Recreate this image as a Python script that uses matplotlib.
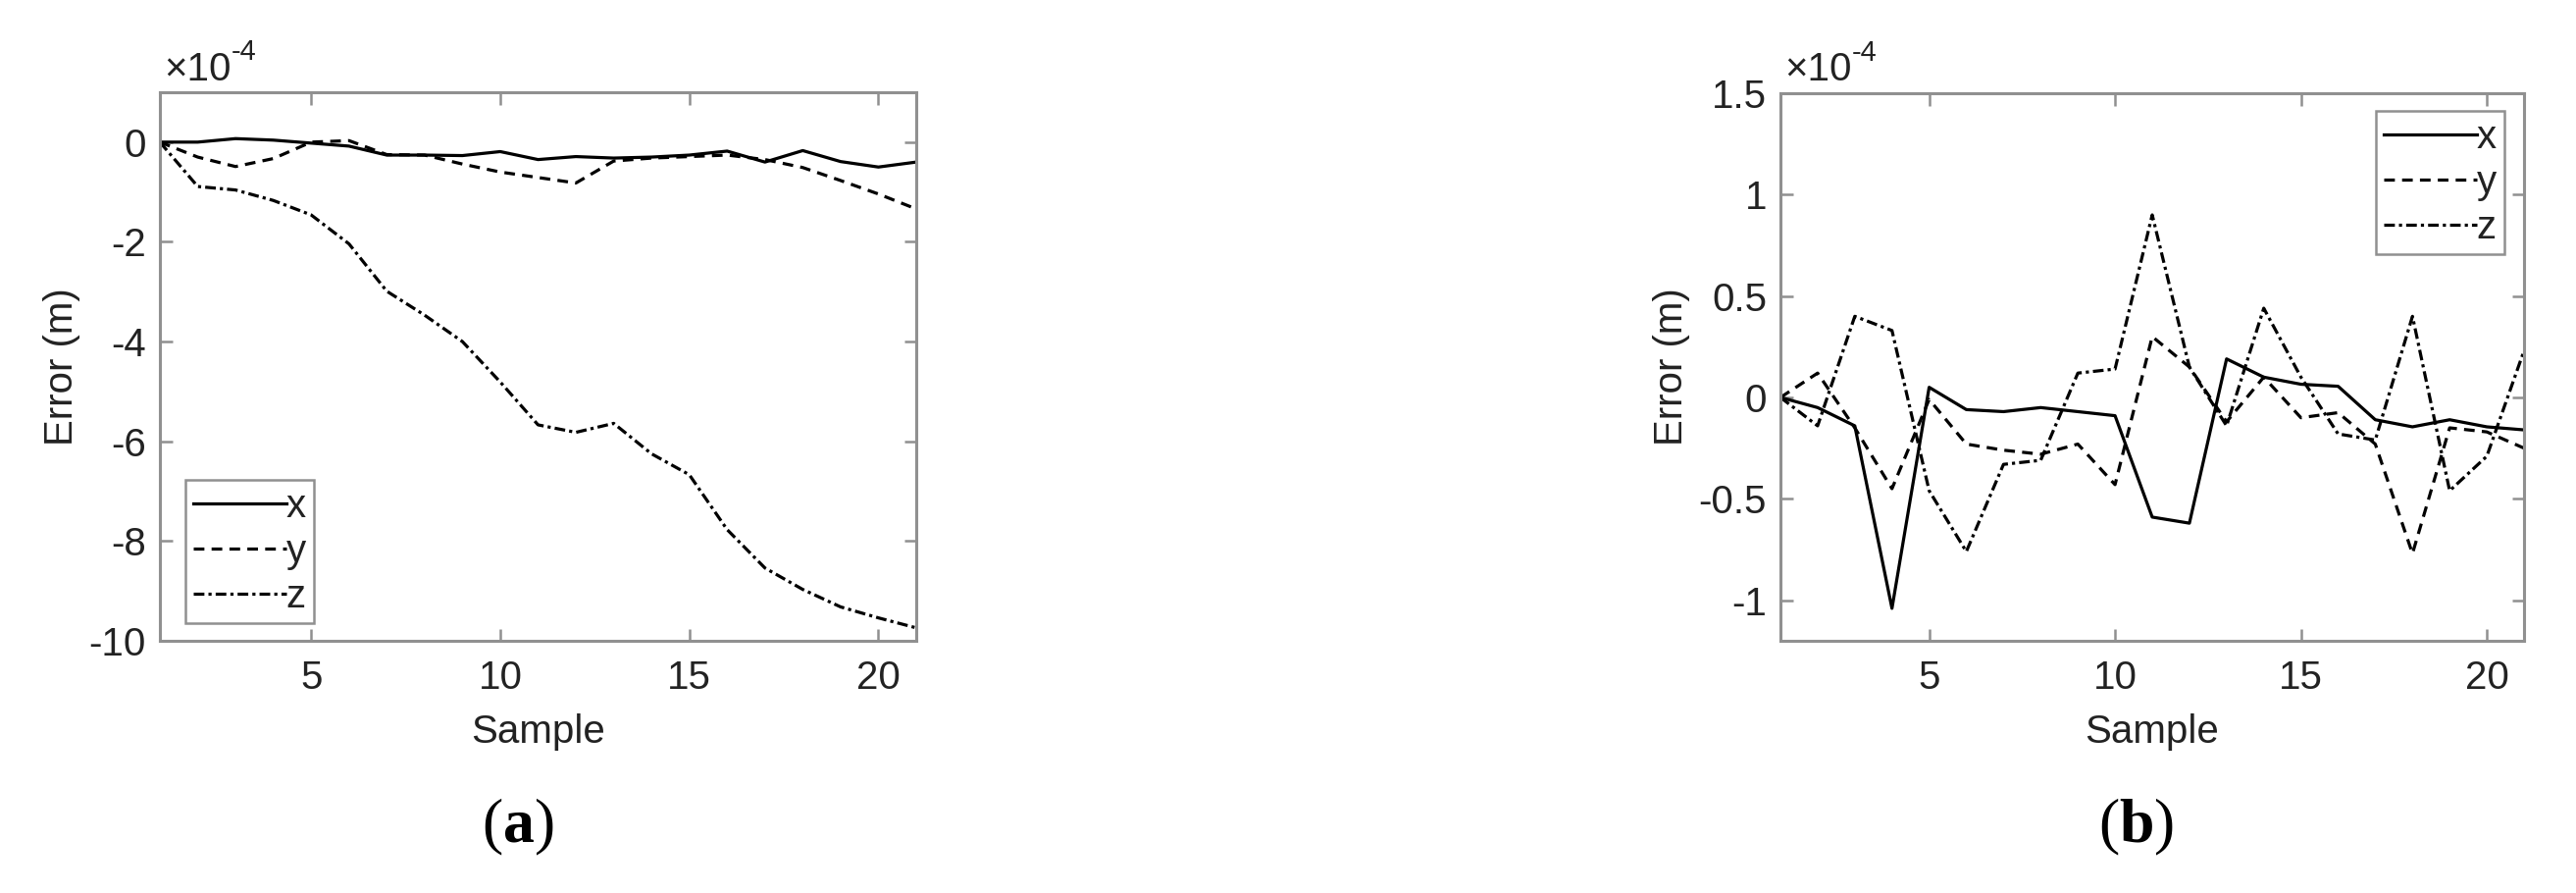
import matplotlib
matplotlib.use("Agg")
import matplotlib.pyplot as plt
from matplotlib.ticker import FormatStrFormatter

plt.rcParams['font.family'] = ['Liberation Sans', 'DejaVu Sans']
plt.rcParams['axes.unicode_minus'] = False
plt.rcParams['mathtext.fontset'] = 'custom'
plt.rcParams['mathtext.rm'] = 'Liberation Sans'
plt.rcParams['mathtext.it'] = 'Liberation Sans'
plt.rcParams['mathtext.bf'] = 'Liberation Serif:bold'

samples = list(range(1, 22))

# (a) errors in units of 1e-4 m
a_x = [0.0, 0.0, 0.07, 0.04, -0.02, -0.08, -0.26, -0.26, -0.27, -0.19, -0.35,
       -0.29, -0.32, -0.30, -0.26, -0.18, -0.40, -0.17, -0.39, -0.50, -0.40]
a_y = [0.0, -0.30, -0.49, -0.33, 0.0, 0.03, -0.25, -0.26, -0.44, -0.60, -0.71,
       -0.82, -0.38, -0.32, -0.29, -0.26, -0.35, -0.51, -0.77, -1.04, -1.34]
a_z = [0.0, -0.89, -0.96, -1.17, -1.46, -2.04, -2.99, -3.47, -4.00, -4.81, -5.67,
       -5.82, -5.64, -6.25, -6.67, -7.77, -8.54, -8.97, -9.32, -9.54, -9.74]

# (b) errors in units of 1e-4 m
b_x = [0.0, -0.05, -0.14, -1.04, 0.05, -0.06, -0.07, -0.05, -0.07, -0.09, -0.59,
       -0.62, 0.19, 0.10, 0.065, 0.055, -0.11, -0.145, -0.11, -0.145, -0.16]
b_y = [0.0, 0.12, -0.15, -0.45, -0.01, -0.23, -0.26, -0.28, -0.23, -0.43, 0.30,
       0.15, -0.12, 0.10, -0.10, -0.075, -0.23, -0.77, -0.15, -0.17, -0.25]
b_z = [0.0, -0.14, 0.40, 0.33, -0.46, -0.76, -0.33, -0.31, 0.12, 0.14, 0.90,
       0.15, -0.14, 0.44, 0.10, -0.18, -0.21, 0.40, -0.46, -0.29, 0.23]

a_yticks = [-10, -8, -6, -4, -2, 0]
b_yticks = [-1, -0.5, 0, 0.5, 1, 1.5]
xticks = [5, 10, 15, 20]
series_labels = ['x', 'y', 'z']
scale_base = '\u00d710'
scale_exp = '-4'

W, H = 2626, 910
fig = plt.figure(figsize=(W / 100, H / 100), dpi=100)

def fx(px):
    return px / W

def fy(py):
    return 1 - py / H

ax_a = fig.add_axes([fx(163), fy(653), fx(934 - 163), (653 - 94) / H])
ax_b = fig.add_axes([fx(1815), fy(653), fx(2573 - 1815), (653 - 95) / H])

spine_col = '#909090'
txt_col = '#222222'
FS = 29
styles = [dict(ls='-'), dict(ls=(0, (3.4, 2.3))), dict(ls=(0, (3.4, 1.3, 1, 1.3)))]

def setup(ax, data, ylim, yticks, legend_loc, legend_anchor):
    for d, st, lab in zip(data, styles, series_labels):
        ax.plot(samples, d, color='black', lw=2.3, label=lab, **st)
    ax.set_xlim(1, 21)
    ax.set_ylim(*ylim)
    ax.set_xticks(xticks)
    ax.set_yticks(yticks)
    ax.yaxis.set_major_formatter(FormatStrFormatter('%g'))
    for s in ax.spines.values():
        s.set_color(spine_col)
        s.set_linewidth(2.2)
    ax.tick_params(direction='in', length=9, width=1.8, color=spine_col,
                   top=True, right=True, labelsize=FS, labelcolor=txt_col)
    ax.tick_params(axis='x', pad=14)
    ax.tick_params(axis='y', pad=10)
    ax.set_xlabel('Sample', fontsize=FS, color=txt_col, labelpad=12)
    ax.set_ylabel('Error (m)', fontsize=FS, color=txt_col, labelpad=6)
    ax.annotate(scale_base, xy=(0, 1), xycoords='axes fraction',
                xytext=(3, 9), textcoords='offset points', fontsize=FS,
                color=txt_col, ha='left', va='baseline')
    ax.annotate(scale_exp, xy=(0, 1), xycoords='axes fraction',
                xytext=(3 + 1.70 * FS, 9 + 0.5 * FS), textcoords='offset points',
                fontsize=FS * 0.72, color=txt_col, ha='left', va='baseline')
    leg = ax.legend(loc=legend_loc, bbox_to_anchor=legend_anchor, fontsize=FS,
                    handlelength=2.35, handletextpad=0.0, borderpad=0.2,
                    labelspacing=0.2, borderaxespad=0.0, fancybox=False,
                    framealpha=1)
    leg.get_frame().set_edgecolor(spine_col)
    leg.get_frame().set_linewidth(1.8)
    for t in leg.get_texts():
        t.set_color(txt_col)
    return ax

setup(ax_a, [a_x, a_y, a_z], (-10, 1), a_yticks, 'lower left',
      ((189 - 163) / 771, (653 - 635) / 559))
setup(ax_b, [b_x, b_y, b_z], (-1.2, 1.5), b_yticks, 'upper right',
      ((2553 - 1815) / 758, (653 - 113) / 558))

fig.text(fx(528), fy(843), r'($\mathbf{a}$)', fontsize=46, family='Liberation Serif',
         ha='center', va='center')
fig.text(fx(2178), fy(843), r'($\mathbf{b}$)', fontsize=46, family='Liberation Serif',
         ha='center', va='center')

fig.savefig('out.png', dpi=100, facecolor='white')
